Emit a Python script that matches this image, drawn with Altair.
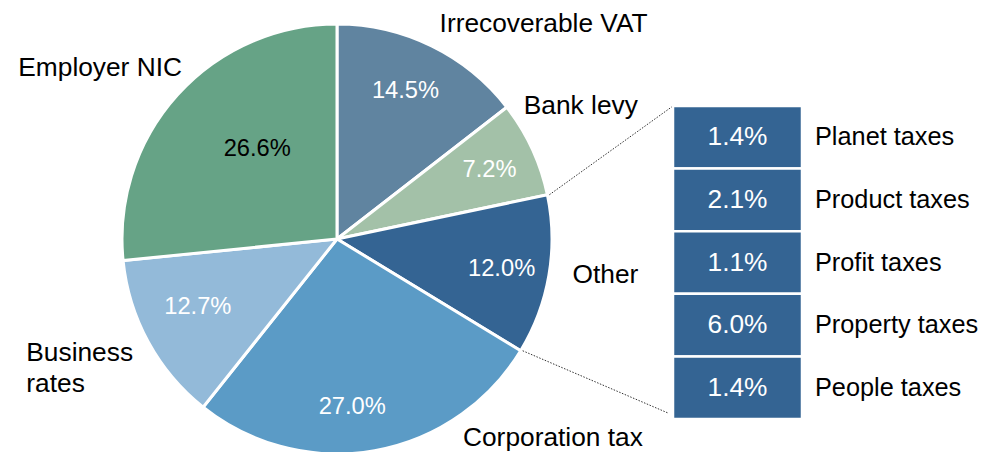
import altair as alt
import pandas as pd
import numpy as np

# ---- data ----
categories = ["Irrecoverable VAT", "Bank levy", "Other", "Corporation tax", "Business rates", "Employer NIC"]
shares = [14.5, 7.2, 12.0, 27.0, 12.7, 26.6]
label_text = ["Irrecoverable VAT", "Bank levy", "Other", "Corporation tax", "Business\nrates", "Employer NIC"]
colors = ["#6084A0", "#A3C1A8", "#346493", "#5B9BC6", "#93BAD9", "#66A386"]

other_parts = ["Planet taxes", "Product taxes", "Profit taxes", "Property taxes", "People taxes"]
other_shares = [1.4, 2.1, 1.1, 6.0, 1.4]
other_color = "#346493"

# ---- layout ----
W, H = 972, 444
CX, CY, R = 329, 231, 215
BOX_X0, BOX_X1 = 665, 794
BOX_Y0, BOX_Y1 = 98, 411
FONT = "Liberation Sans"
LABEL_SIZE = 26.3
NAME_SIZE = 25.3
PCT_SIZE = 23.7

pie_df = pd.DataFrame({
    "cat": categories,
    "share": shares,
    "order": list(range(len(categories))),
    "label": label_text,
    "pct": [f"{v:.1f}%" for v in shares],
})

theta_scale = alt.Scale(domain=[0, 100], range=[0, 2 * np.pi])

arcs = alt.Chart(pie_df).mark_arc(outerRadius=R, stroke="white", strokeWidth=3).encode(
    theta=alt.Theta("share:Q", stack=True, scale=theta_scale),
    order=alt.Order("order:Q"),
    color=alt.Color("cat:N", scale=alt.Scale(domain=categories, range=colors), legend=None),
    x=alt.value(CX), y=alt.value(CY),
)

lab_base = alt.Chart(pie_df).transform_window(
    cum="sum(share)", sort=[alt.SortField("order")], frame=[None, 0]
).transform_calculate(mid="datum.cum - datum.share / 2")

def theta_mid():
    return alt.Theta("mid:Q", stack=None, scale=theta_scale)

layers = [arcs]

# percentage labels inside slices
pct_style = {
    "Irrecoverable VAT": dict(radius=167, color="white", dx=-5, dy=2),
    "Bank levy": dict(radius=167, color="white", dx=1, dy=1),
    "Other": dict(radius=167, color="white", dx=0, dy=2),
    "Corporation tax": dict(radius=167, color="white", dx=-14, dy=4),
    "Business rates": dict(radius=154, color="white", dx=-4, dy=-6),
    "Employer NIC": dict(radius=121, color="black", dx=10, dy=-9),
}
for c, st in pct_style.items():
    layers.append(
        lab_base.transform_filter(alt.datum.cat == c)
        .mark_text(font=FONT, fontSize=PCT_SIZE, align="center", baseline="middle", **st)
        .encode(theta=theta_mid(), text="pct:N", x=alt.value(CX), y=alt.value(CY))
    )

# outer category labels
outer_style = {
    "Irrecoverable VAT": dict(align="left", dx=-3, dy=1),
    "Bank levy": dict(align="left", dx=-31, dy=-32),
    "Other": dict(align="left", dx=-1, dy=-5),
    "Corporation tax": dict(align="left", dx=84, dy=-37),
    "Business rates": dict(align="left", dx=-100, dy=-1),
    "Employer NIC": dict(align="right", dx=23, dy=-10),
}
for c, st in outer_style.items():
    layers.append(
        lab_base.transform_filter(alt.datum.cat == c)
        .mark_text(radius=R + 25, font=FONT, fontSize=LABEL_SIZE, color="black", baseline="middle",
                   lineBreak="\n", lineHeight=31, **st)
        .encode(theta=theta_mid(), text="label:N", x=alt.value(CX), y=alt.value(CY))
    )

# connector lines from the "Other" slice to the breakdown box
cum = np.cumsum([0] + shares)
i_other = categories.index("Other")
a0 = cum[i_other] / 100 * 2 * np.pi
a1 = cum[i_other + 1] / 100 * 2 * np.pi
p0 = (CX + R * np.sin(a0), CY - R * np.cos(a0))
p1 = (CX + R * np.sin(a1), CY - R * np.cos(a1))
one = pd.DataFrame({"k": [0]})
for (px, py), (bx, by) in [(p0, (BOX_X0, BOX_Y0)), (p1, (BOX_X0 - 5, BOX_Y1 - 6))]:
    layers.append(
        alt.Chart(one).mark_rule(color="#333333", strokeWidth=1, strokeDash=[1.5, 1.5]).encode(
            x=alt.value(float(px) + 2), y=alt.value(float(py)),
            x2=alt.value(float(bx)), y2=alt.value(float(by)),
        )
    )

# breakdown box
box_df = pd.DataFrame({
    "part": other_parts,
    "share": other_shares,
    "pct": [f"{v:.1f}%" for v in other_shares],
})
y_enc = alt.Y("part:N", sort=other_parts, axis=None,
              scale=alt.Scale(range=[BOX_Y0, BOX_Y1], paddingInner=0, paddingOuter=0))
box = alt.Chart(box_df).mark_rect(color=other_color, stroke="white", strokeWidth=2.5).encode(
    y=y_enc, x=alt.value(BOX_X0), x2=alt.value(BOX_X1)
)
box_pct = alt.Chart(box_df).mark_text(font=FONT, fontSize=LABEL_SIZE, color="white", align="center", baseline="middle").encode(
    y=y_enc, x=alt.value((BOX_X0 + BOX_X1) / 2), text="pct:N"
)
box_names = alt.Chart(box_df).mark_text(font=FONT, fontSize=NAME_SIZE, color="black", align="left", baseline="middle").encode(
    y=y_enc, x=alt.value(BOX_X1 + 13), text="part:N"
)
layers += [box, box_pct, box_names]

chart = alt.layer(*layers).properties(
    width=W, height=H, padding=0, autosize="none"
).configure_view(stroke=None)

chart.save("out.html", embed_options={"renderer": "svg", "actions": False})
